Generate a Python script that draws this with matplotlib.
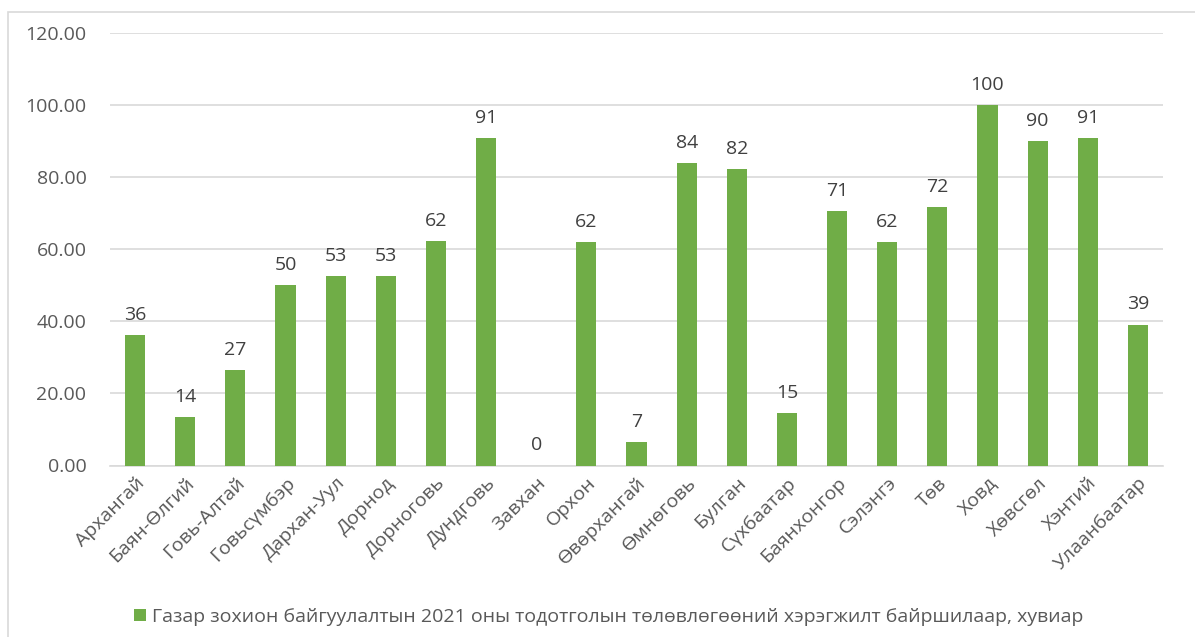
import matplotlib
matplotlib.use("Agg")
from matplotlib import pyplot as plt
from matplotlib.patches import Rectangle
from matplotlib.transforms import ScaledTranslation
import numpy as np

plt.rcParams['font.family'] = ['Open Sans', 'DejaVu Sans']

# Data for plotting
aimags = ['Архангай', 'Баян-Өлгий', 'Говь-Алтай', 'Говьсүмбэр', 'Дархан-Уул',
          'Дорнод', 'Дорноговь', 'Дундговь', 'Завхан', 'Орхон', 'Өвөрхангай',
          'Өмнөговь', 'Булган', 'Сүхбаатар', 'Баянхонгор', 'Сэлэнгэ', 'Төв',
          'Ховд', 'Хөвсгөл', 'Хэнтий', 'Улаанбаатар']
percent = [36.3, 13.5, 26.6, 50.0, 52.6, 52.6, 62.2, 90.8, 0.0, 61.9, 6.6,
           84.0, 82.3, 14.6, 70.7, 62.0, 71.7, 100.0, 90.0, 90.8, 39.1]
series_name = 'Газар зохион байгуулалтын 2021 оны тодотголын төлөвлөгөөний хэрэгжилт байршилаар, хувиар'
y_ticks = [0, 20, 40, 60, 80, 100, 120]

green = '#70AD47'
text_grey = '#595959'
line_grey = '#D9D9D9'
fs = 14

fig = plt.figure(figsize=(11.95, 6.37), dpi=100)
ax = fig.add_axes([110 / 1195, 1 - 465.5 / 637, (1163 - 110) / 1195, (465.5 - 33) / 637])

# chart border like the Excel frame
fig.patches.append(Rectangle((8 / 1195, -0.1), 1.2, 1.1 - 12 / 637, transform=fig.transFigure,
                             fill=False, edgecolor=line_grey, linewidth=1.2))

x = np.arange(len(aimags))
bars = ax.bar(x, percent, width=0.4, color=green, label=series_name, zorder=3)

for xi, v in zip(x, percent):
    ax.annotate(f'{v:.0f}', (xi, v), xytext=(0, 8), textcoords='offset points',
                ha='center', va='bottom', fontsize=fs, color='#404040')

ax.set_xlim(-0.5, len(aimags) - 0.5)
ax.set_ylim(0, 120)
ax.set_yticks(y_ticks)
ax.set_yticklabels([f'{t:.2f}' for t in y_ticks], fontsize=fs, color=text_grey)
ax.set_xticks(x)
ax.set_xticklabels(aimags, rotation=45, ha='right', va='top', rotation_mode='anchor',
                   fontsize=fs, color=text_grey)
shift = ScaledTranslation(-4 / 100, 0, fig.dpi_scale_trans)
for lbl in ax.get_xticklabels():
    lbl.set_transform(lbl.get_transform() + shift)

ax.grid(axis='y', color=line_grey, linewidth=1.2, zorder=0)
for side in ['top', 'right', 'left']:
    ax.spines[side].set_visible(False)
ax.spines['bottom'].set_color(line_grey)
ax.spines['bottom'].set_linewidth(1.2)
ax.tick_params(axis='both', length=0)
ax.tick_params(axis='y', pad=17)
ax.tick_params(axis='x', pad=6)

fig.legend(handles=[bars], labels=[series_name], loc='center',
           bbox_to_anchor=(0.5 + 11 / 1195, 1 - 617 / 637),
           frameon=False, prop={'size': fs}, labelcolor=text_grey,
           handlelength=0.6, handleheight=0.6, handletextpad=0.3)

fig.savefig('out.png', dpi=100)
